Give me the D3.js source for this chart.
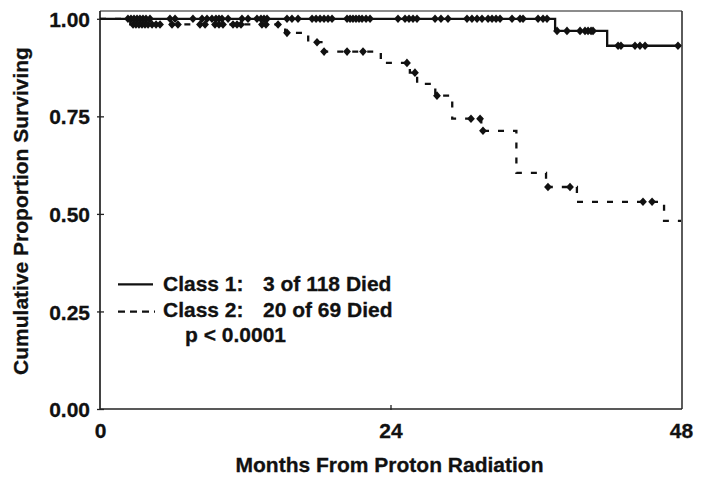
<!DOCTYPE html>
<html>
<head>
<meta charset="utf-8">
<script src="https://cdn.jsdelivr.net/npm/d3@7"></script>
<style>
  html, body { margin: 0; padding: 0; background: #fff; }
  svg { display: block; }
  text { font-family: "Liberation Sans", Arial, Helvetica, sans-serif; font-weight: bold; fill: #111; stroke: #111; stroke-width: 0.3px; }
</style>
</head>
<body>
<svg id="chart" width="704" height="483"></svg>
<script>
// ---- Data ----
const xTicks = [0, 24, 48];
const yTicks = [0, 0.25, 0.5, 0.75, 1.0];
const xMax = 48;

// Class 1: step times (months) and survival after each step
const class1Times = [0, 37.6, 41.9];
const class1Surv  = [1.0, 0.969, 0.931];
const class1Censor = [2.31, 2.56, 2.81, 3.06, 3.30, 3.55, 3.80, 4.13, 5.78, 6.20, 7.68, 8.43, 8.84,
  9.25, 9.58, 9.83, 10.08, 10.58, 11.73, 12.23, 12.97, 13.30, 13.55, 13.80, 15.45, 15.86, 16.36,
  17.52, 17.85, 18.18, 18.51, 18.84, 19.17, 20.41, 20.66, 20.90, 21.15, 21.40, 21.65, 21.98, 22.31,
  24.62, 25.20, 25.53, 25.86, 26.19, 27.68, 28.17, 28.75, 30.32, 30.73, 31.15, 31.56, 32.06, 32.39,
  32.72, 33.05, 34.04, 34.70, 34.95, 36.19, 36.60, 36.93, 37.76, 38.58, 39.66, 40.07, 40.32, 40.57,
  40.73, 42.80, 43.04, 44.20, 44.61, 45.03, 47.75];

// Class 2
const class2Times = [0, 2.5, 15.3, 17.2, 18.4, 23.2, 25.6, 26.2, 27.7, 29.1, 31.5, 34.4, 36.85, 39.4, 46.6];
const class2Surv  = [1.0, 0.9855, 0.964, 0.940, 0.916, 0.887, 0.862, 0.833, 0.803, 0.744, 0.713, 0.605, 0.569, 0.531, 0.482];
const class2Censor = [2.73, 2.97, 3.22, 3.47, 3.72, 3.97, 4.30, 4.63, 4.96, 5.95, 6.44, 8.26, 8.68,
  9.50, 9.83, 10.16, 10.99, 11.32, 11.65, 13.38, 13.71, 14.71, 15.45, 17.93, 18.51, 20.41, 21.73,
  25.36, 26.02, 27.84, 30.65, 31.40, 31.64, 37.01, 38.83, 44.86, 45.61];

const legendLabels = ["Class 1:", "Class 2:"];
const legendCounts = ["3 of 118 Died", "20 of 69 Died"];
const pText = "p < 0.0001";
const xTitle = "Months From Proton Radiation";
const yTitle = "Cumulative Proportion Surviving";

(function () {
// ---- Layout ----
const svg = d3.select("#chart");
const pL = 100, pR = 681, pT = 11, pB = 409;
const x = d3.scaleLinear().domain([0, xMax]).range([pL, pR]);
const y = d3.scaleLinear().domain([0, 1.02]).range([pB, pT]);
const FS = 21;

function stepPoints(times, surv) {
  const pts = times.map((t, i) => [t, surv[i]]);
  pts.push([xMax, surv[surv.length - 1]]);
  return pts;
}
function survAt(times, surv, t) {
  let s = surv[0];
  for (let i = 0; i < times.length; i++) if (times[i] <= t) s = surv[i];
  return s;
}
const line = d3.line().x(d => x(d[0])).y(d => y(d[1])).curve(d3.curveStepAfter);

// frame (top/right)
svg.append("line").attr("x1", pL).attr("x2", pR + 1).attr("y1", pT).attr("y2", pT)
  .attr("stroke", "#666").attr("stroke-width", 1.5);
svg.append("line").attr("x1", pR + 1).attr("x2", pR + 1).attr("y1", pT).attr("y2", pB)
  .attr("stroke", "#333").attr("stroke-width", 1.6);

// axes
const yAxis = svg.append("g").attr("transform", `translate(${pL},0)`)
  .call(d3.axisLeft(y).tickValues(yTicks).tickFormat(d3.format(".2f")).tickSize(3).tickPadding(7));
yAxis.attr("font-family", null).attr("font-size", null);
yAxis.select(".domain").attr("stroke", "#222").attr("stroke-width", 1.7).attr("d", `M0,${pT}V${pB}`);
yAxis.selectAll(".tick line").attr("x1", 4).attr("x2", -3).attr("stroke", "#222").attr("stroke-width", 1.3);
yAxis.selectAll(".tick text").attr("font-size", FS).attr("fill", "#111").attr("dy", "0.36em");

const xAxis = svg.append("g").attr("transform", `translate(0,${pB})`)
  .call(d3.axisBottom(x).tickValues(xTicks).tickFormat(d3.format("d")).tickSize(2));
xAxis.attr("font-family", null).attr("font-size", null);
xAxis.select(".domain").attr("stroke", "#222").attr("stroke-width", 1.7).attr("d", `M${pL},0H${pR + 1}`);
xAxis.selectAll(".tick line").attr("y1", -4).attr("y2", 1).attr("stroke", "#222").attr("stroke-width", 1.3)
  .filter(d => d === 0 || d === xMax).remove();
xAxis.selectAll(".tick text").attr("font-size", FS).attr("fill", "#111")
  .attr("y", 29).attr("dy", 0);

// curves
svg.append("path").datum(stepPoints(class1Times, class1Surv)).attr("d", line)
  .attr("fill", "none").attr("stroke", "#111").attr("stroke-width", 2.3);
svg.append("path").datum(stepPoints(class2Times, class2Surv)).attr("d", line)
  .attr("fill", "none").attr("stroke", "#111").attr("stroke-width", 2.3).attr("stroke-dasharray", "6,9");

// censor marks
const diamond = "M0,-4.3L3.9,0L0,4.3L-3.9,0Z";
svg.append("g").selectAll("path").data(class1Censor).join("path")
  .attr("d", diamond)
  .attr("transform", d => `translate(${x(d)},${y(survAt(class1Times, class1Surv, d))})`)
  .attr("fill", "#111");
svg.append("g").selectAll("path").data(class2Censor).join("path")
  .attr("d", diamond)
  .attr("transform", d => `translate(${x(d)},${y(survAt(class2Times, class2Surv, d))})`)
  .attr("fill", "#111");

// legend
const legY = [284.3, 311.7];
const legBase = [290.7, 316.7];
svg.append("line").attr("x1", 118).attr("x2", 153).attr("y1", legY[0]).attr("y2", legY[0])
  .attr("stroke", "#111").attr("stroke-width", 2.3);
svg.append("line").attr("x1", 118).attr("x2", 155).attr("y1", legY[1]).attr("y2", legY[1])
  .attr("stroke", "#111").attr("stroke-width", 2.3).attr("stroke-dasharray", "7,5");
legendLabels.forEach((t, i) => {
  svg.append("text").attr("x", 163).attr("y", legBase[i]).attr("font-size", FS).text(t);
  svg.append("text").attr("x", 263).attr("y", legBase[i]).attr("font-size", FS).text(legendCounts[i]);
});
svg.append("text").attr("x", 185).attr("y", 341.7).attr("font-size", FS).text(pText);

// axis titles
svg.append("text").attr("x", 389.5).attr("y", 471.5).attr("text-anchor", "middle")
  .attr("font-size", FS).text(xTitle);
svg.append("text").attr("transform", "translate(27.5,211) rotate(-90)").attr("text-anchor", "middle")
  .attr("font-size", FS).text(yTitle);
})();
</script>
</body>
</html>
